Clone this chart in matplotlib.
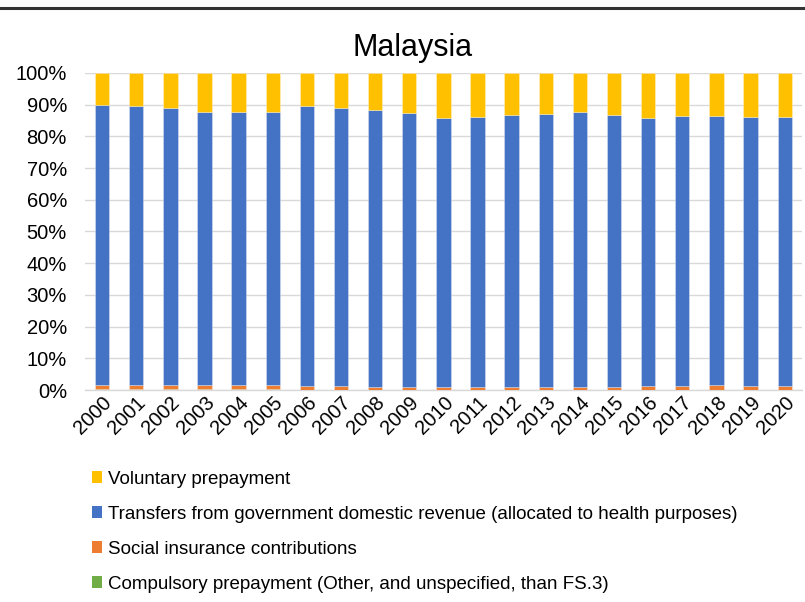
import numpy as np
import matplotlib
matplotlib.use("Agg")
import matplotlib.pyplot as plt
from matplotlib.lines import Line2D
from matplotlib.patches import Patch
from matplotlib.ticker import PercentFormatter

plt.rcParams['font.family'] = ['Liberation Sans', 'DejaVu Sans']

years = [str(y) for y in range(2000, 2021)]
# shares in percent
compulsory = [0.3, 0.3, 0.3, 0.3, 0.3, 0.3, 0.0, 0.0, 0.0, 0.0, 0.0,
              0.0, 0.0, 0.0, 0.0, 0.0, 0.0, 0.0, 0.0, 0.0, 0.0]
social = [1.3, 1.3, 1.3, 1.2, 1.3, 1.4, 1.3, 1.3, 1.0, 0.9, 1.1,
          1.1, 1.1, 1.1, 1.1, 1.1, 1.4, 1.3, 1.5, 1.4, 1.4]
transfers = [88.2, 88.1, 87.2, 86.3, 86.0, 86.1, 88.1, 87.6, 87.3, 86.4, 84.8,
             85.1, 85.7, 85.8, 86.6, 85.7, 84.5, 85.2, 85.0, 84.8, 84.8]
voluntary = [100 - a - b - c for a, b, c in zip(compulsory, social, transfers)]

labels = ["Compulsory prepayment (Other, and unspecified, than FS.3)",
          "Social insurance contributions",
          "Transfers from government domestic revenue (allocated to health purposes)",
          "Voluntary prepayment"]
colors = ["#70AD47", "#ED7D31", "#4472C4", "#FFC000"]

fig = plt.figure(figsize=(8.05, 6.02), dpi=100)
ax = fig.add_axes([0.1056, 0.352, 0.8904, 0.527])

x = np.arange(len(years))
bottom = np.zeros(len(years))
for vals, col in zip([compulsory, social, transfers, voluntary], colors):
    ax.bar(x, vals, width=0.42, bottom=bottom, color=col, zorder=3,
           edgecolor=(1, 1, 1, 0.35), linewidth=0.6)
    bottom += np.array(vals)

ax.set_xlim(-0.5, len(years) - 0.5)
ax.set_ylim(0, 100)
ax.set_yticks(range(0, 101, 10))
ax.yaxis.set_major_formatter(PercentFormatter(decimals=0))
ax.grid(axis='y', color='#D9D9D9', linewidth=1, zorder=0)
for s in ['top', 'right', 'left']:
    ax.spines[s].set_visible(False)
ax.spines['bottom'].set_color('#D9D9D9')
ax.spines['bottom'].set_linewidth(1)
ax.tick_params(axis='both', length=0, labelsize=14.5)
ax.tick_params(axis='y', pad=13)
ax.tick_params(axis='x', pad=2)
ax.set_xticks(x)
ax.set_xticklabels(years, rotation=45, ha='right', rotation_mode='anchor')

fig.text(0.513, 0.921, "Malaysia", ha='center', va='center', fontsize=22)

# top border line
fig.add_artist(Line2D([0, 1], [0.987, 0.987], color='#333333', linewidth=2.2,
                      transform=fig.transFigure))

handles = [Patch(facecolor=c) for c in colors[::-1]]
fig.legend(handles, labels[::-1], loc='upper left', bbox_to_anchor=(0.114, 0.218),
           frameon=False, fontsize=13.5, handlelength=0.55, handleheight=0.55,
           handletextpad=0.3, labelspacing=0.96, borderaxespad=0, borderpad=0)

fig.savefig("out.png", dpi=100)
